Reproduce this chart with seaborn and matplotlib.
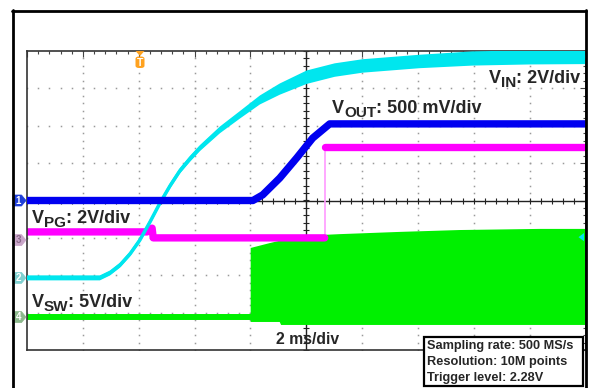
import numpy as np
import matplotlib
matplotlib.use("Agg")
import matplotlib.pyplot as plt
import matplotlib.transforms as mtransforms
from matplotlib.patches import Polygon, Rectangle, FancyBboxPatch
from matplotlib.lines import Line2D
import seaborn as sns

sns.set_style("white")
plt.rcParams["font.family"] = ["Liberation Sans", "DejaVu Sans"]

# Time in ms (2 ms/div, 10 divisions); amplitude in divisions from screen centre
vout_t = [0, 8.09, 8.44, 9.05, 9.66, 10.23, 10.84, 20]
vout_v = [0, 0, 0.15, 0.60, 1.14, 1.67, 2.05, 2.05]

vin_t = [0, 2.61, 2.97, 3.33, 3.69, 4.04, 4.40, 4.76, 5.12, 5.47, 5.83,
         6.19, 6.91, 7.62, 8.34, 9.05, 10.02, 11.02, 12.02, 14.06, 15.96,
         18.0, 20]
vin_v = [-2.07, -2.07, -1.94, -1.73, -1.43, -1.06, -0.58, -0.07, 0.39, 0.79,
         1.11, 1.40, 1.89, 2.29, 2.69, 2.98, 3.30, 3.49, 3.60, 3.72, 3.80,
         3.83, 3.84]
vin_spread = [0.067, 0.067, 0.067, 0.067, 0.067, 0.067, 0.07, 0.07, 0.075,
              0.075, 0.08, 0.08, 0.09, 0.10, 0.12, 0.15, 0.18, 0.18, 0.18,
              0.18, 0.19, 0.19, 0.19]

pg_low_t = [0, 4.30, 4.48, 4.52, 10.66]
pg_low_v = [-0.84, -0.84, -0.74, -1.00, -1.00]
pg_high_t = [10.66, 20]
pg_high_v = [1.43, 1.43]

sw_idle_t = [0, 8.03]
sw_idle_v = [-3.12, -3.12]
sw_top_t = [8.01, 8.01, 8.69, 9.77, 11.20, 13.35, 15.49, 18.35, 20]
sw_top_v = [-3.25, -1.27, -1.14, -0.95, -0.90, -0.84, -0.79, -0.76, -0.76]
sw_bot_t = [8.01, 9.05, 9.10, 20]
sw_bot_v = [-3.25, -3.25, -3.33, -3.33]

ref_levels = {"1": 0.0, "2": -2.07, "3": -1.06, "4": -3.12}

labels = [("V", "IN", ": 2V/div", 489, 83),
          ("V", "OUT", ": 500 mV/div", 332, 113),
          ("V", "PG", ": 2V/div", 32, 223),
          ("V", "SW", ": 5V/div", 32, 307)]
timebase = "2 ms/div"
info = ["Sampling rate: 500 MS/s", "Resolution: 10M points",
        "Trigger level: 2.28V"]

C_BLUE = "#0000f0"
C_CYAN = "#00e6ee"
C_MAG = "#ff00ff"
C_GREEN = "#00f000"

W, H = 593, 388
fig = plt.figure(figsize=(W / 100, H / 100), dpi=100)


def fx(px):
    return px / W


def fy(py):
    return 1 - py / H


ax = fig.add_axes([fx(27), fy(350), fx(585.5) - fx(27), fy(51) - fy(350)])
ax.set_xlim(0, 20)
ax.set_ylim(-4, 4)

# graticule: dotted division lines, solid centre cross, edge ticks
minor_x = np.arange(0, 20.001, 0.4)
minor_y = np.arange(-4, 4.001, 0.2)
for gx in range(2, 20, 2):
    if gx == 10:
        continue
    ax.plot(np.full_like(minor_y, gx), minor_y, ls="none", marker="s",
            ms=1.1, color="#9a9a9a", mew=0, zorder=0.5)
for gy in range(-3, 4):
    if gy == 0:
        continue
    ax.plot(minor_x, np.full_like(minor_x, gy), ls="none", marker="s",
            ms=1.1, color="#9a9a9a", mew=0, zorder=0.5)
ax.axvline(10, color="#222222", lw=1.0, zorder=0.6)
ax.axhline(0, color="#222222", lw=1.0, zorder=0.6)
ax.plot(np.full_like(minor_y, 10), minor_y, ls="none", marker="_", ms=4,
        color="#222222", mew=0.8, zorder=0.6)
ax.plot(minor_x, np.zeros_like(minor_x), ls="none", marker="|", ms=4,
        color="#222222", mew=0.8, zorder=0.6)

ax.xaxis.set_major_locator(matplotlib.ticker.MultipleLocator(2))
ax.xaxis.set_minor_locator(matplotlib.ticker.MultipleLocator(0.4))
ax.yaxis.set_major_locator(matplotlib.ticker.MultipleLocator(1))
ax.yaxis.set_minor_locator(matplotlib.ticker.MultipleLocator(0.2))
ax.tick_params(which="both", direction="in", top=True, right=True,
               labelbottom=False, labelleft=False, color="#444444", width=0.8)
ax.tick_params(which="major", length=4)
ax.tick_params(which="minor", length=2.5)
for sp in ax.spines.values():
    sp.set_color("#333333")
    sp.set_linewidth(1.2)

# CH4: switch node
sns.lineplot(x=sw_idle_t, y=sw_idle_v, ax=ax, color=C_GREEN, lw=4.3,
             estimator=None, sort=False, zorder=1)
ax.fill(np.r_[sw_top_t, sw_bot_t[::-1]], np.r_[sw_top_v, sw_bot_v[::-1]],
        color=C_GREEN, lw=0, zorder=1)

# CH3: power good
sns.lineplot(x=pg_low_t, y=pg_low_v, ax=ax, color=C_MAG, lw=5.3,
             estimator=None, sort=False, zorder=2)
sns.lineplot(x=pg_high_t, y=pg_high_v, ax=ax, color=C_MAG, lw=5.3,
             estimator=None, sort=False, zorder=2)
ax.plot([pg_low_t[-1], pg_high_t[0]], [pg_low_v[-1], pg_high_v[0]],
        color="#ff99ff", lw=1.2, zorder=1.9)

# CH2: input voltage (noisy band)
vin_t_a = np.array(vin_t)
vin_v_a = np.array(vin_v)
vin_s_a = np.array(vin_spread)
ax.fill(np.r_[vin_t_a, vin_t_a[::-1]],
        np.r_[vin_v_a + vin_s_a, (vin_v_a - vin_s_a)[::-1]],
        color=C_CYAN, lw=0, zorder=3)
sns.lineplot(x=vin_t, y=vin_v, ax=ax, color=C_CYAN, lw=2.5,
             estimator=None, sort=False, zorder=3)

# CH1: output voltage
sns.lineplot(x=vout_t, y=vout_v, ax=ax, color=C_BLUE, lw=5.3,
             estimator=None, sort=False, zorder=4)
ax.set_xlabel("")
ax.set_ylabel("")

# channel reference markers on the left edge
blend = mtransforms.blended_transform_factory(fig.transFigure, ax.transData)
marker_style = {
    "1": ("#1f3fd8", "#ffffff"),
    "2": ("#7fd0d0", "#ffffff"),
    "3": ("#c9a6c9", "#8a6a8a"),
    "4": ("#8cb88c", "#ffffff"),
}
hh = 5.5 / 37.375
for ch, lvl in ref_levels.items():
    fc, tc = marker_style[ch]
    pts = [(fx(13), lvl + hh), (fx(21.5), lvl + hh), (fx(26), lvl),
           (fx(21.5), lvl - hh), (fx(13), lvl - hh)]
    fig.add_artist(Polygon(pts, closed=True, transform=blend, facecolor=fc,
                           edgecolor=fc, lw=0.5, clip_on=False))
    fig.text(fx(18.5), lvl, ch, transform=blend, ha="center", va="center",
             fontsize=7, fontweight="bold", color=tc)

# trigger position marker
fig.add_artist(Polygon([(fx(135.5), fy(51)), (fx(144.5), fy(51)),
                        (fx(140), fy(56))], closed=True, facecolor="#ffa21f",
                       edgecolor="none", transform=fig.transFigure))
fig.add_artist(FancyBboxPatch((fx(135.5), fy(68)), fx(9), fy(56.5) - fy(68),
                              boxstyle="round,pad=0,rounding_size=0.006",
                              facecolor="#ffa21f", edgecolor="none",
                              transform=fig.transFigure))
fig.text(fx(140), fy(62.5), "T", ha="center", va="center", fontsize=7.5,
         fontweight="bold", color="white")

# trigger level marker on the right edge
tl = -0.98
fig.add_artist(Polygon([(fx(584), tl + 0.11), (fx(584), tl - 0.11),
                        (fx(578.5), tl)], closed=True, facecolor=C_CYAN,
                       edgecolor="none", transform=blend))

# outer frame
frame_kw = dict(color="black", lw=2.0, transform=fig.transFigure)
fig.add_artist(Line2D([fx(13), fx(13)], [fy(10), fy(400)], **frame_kw))
fig.add_artist(Line2D([fx(12), fx(586)], [fy(11), fy(11)], **frame_kw))
fig.add_artist(Line2D([fx(585.5), fx(585.5)], [fy(10), fy(400)], **frame_kw))

# channel annotations: symbol, subscript, scale
renderer = fig.canvas.get_renderer()
for main, sub, rest, x0, base in labels:
    t1 = fig.text(fx(x0), fy(base), main, fontsize=13, fontweight="bold",
                  va="baseline")
    x1 = t1.get_window_extent(renderer).x1
    t2 = fig.text(x1 / W, fy(base + 4), sub, fontsize=11, fontweight="bold",
                  va="baseline")
    x2 = t2.get_window_extent(renderer).x1
    fig.text(x2 / W, fy(base), rest, fontsize=13, fontweight="bold",
             va="baseline")
fig.text(fx(276), fy(344), timebase, fontsize=11.3, fontweight="bold",
         va="baseline")

# acquisition info box
fig.add_artist(Rectangle((fx(424), fy(386)), fx(583) - fx(424),
                         fy(337) - fy(386), facecolor="white",
                         edgecolor="black", lw=1.6, transform=fig.transFigure,
                         zorder=5))
for i, line in enumerate(info):
    fig.text(fx(427), fy(349.5 + 15.5 * i), line, fontsize=9.2,
             fontweight="bold", va="baseline", zorder=6)

fig.savefig("out.png", dpi=100)
